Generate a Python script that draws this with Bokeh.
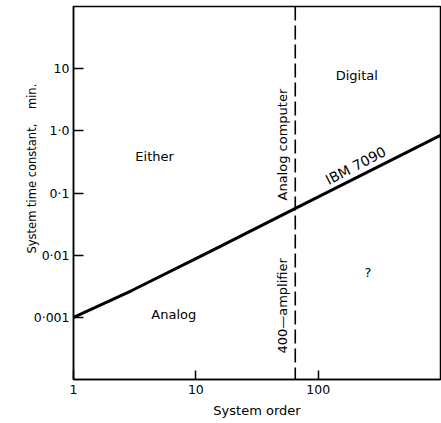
from math import pi
from bokeh.plotting import figure
from bokeh.models import FixedTicker, CustomJSTickFormatter, Label, Span, Title
from bokeh.embed import file_html
from bokeh.resources import INLINE

# ---- data ----
x_ticks = [1, 10, 100]
x_tick_labels = ["1", "10", "100"]
y_ticks = [0.001, 0.01, 0.1, 1, 10]
y_tick_labels = ["0·001", "0·01", "0·1", "1·0", "10"]

ibm_order = [1, 3, 10, 16, 67, 1000]
ibm_time = [0.001, 0.0027, 0.0088, 0.014, 0.058, 0.85]
boundary_order = 65

FONT = "DejaVu Sans"

p = figure(width=441, height=423, x_axis_type="log", y_axis_type="log",
           x_range=(1, 1000), y_range=(1e-4, 100),
           output_backend="svg", toolbar_location=None,
           min_border_left=73, min_border_right=1, min_border_top=6,
           min_border_bottom=44)

p.xgrid.visible = False
p.ygrid.visible = False
p.outline_line_color = "black"
p.outline_line_width = 1.5
p.background_fill_color = "white"
p.border_fill_color = "white"

fmt_code = """
const i = vals.findIndex(t => Math.abs(Math.log10(t) - Math.log10(tick)) < 1e-6);
return i >= 0 ? labs[i] : "";
"""

xa = p.xaxis[0]
xa.ticker = FixedTicker(ticks=x_ticks, minor_ticks=[])
xa.formatter = CustomJSTickFormatter(args=dict(vals=x_ticks, labs=x_tick_labels), code=fmt_code)
xa.major_tick_in = 9
xa.major_tick_out = 0
xa.minor_tick_in = 0
xa.minor_tick_out = 0
xa.major_tick_line_width = 1.5
xa.axis_line_width = 1.5
xa.major_label_standoff = 5
xa.major_label_text_font = FONT
xa.major_label_text_font_size = "12.5px"
xa.major_label_text_color = "black"
xa.axis_label = "System order"
xa.axis_label_text_font = FONT
xa.axis_label_text_font_size = "13px"
xa.axis_label_text_font_style = "normal"
xa.axis_label_text_color = "black"
xa.axis_label_standoff = 6

ya = p.yaxis[0]
ya.ticker = FixedTicker(ticks=y_ticks, minor_ticks=[])
ya.formatter = CustomJSTickFormatter(args=dict(vals=y_ticks, labs=y_tick_labels), code=fmt_code)
ya.major_tick_in = 10
ya.major_tick_out = 0
ya.minor_tick_in = 0
ya.minor_tick_out = 0
ya.major_tick_line_width = 1.5
ya.axis_line_width = 1.5
ya.major_label_standoff = 4
ya.major_label_text_font = FONT
ya.major_label_text_font_size = "12.5px"
ya.major_label_text_color = "black"

p.add_layout(Title(text="System time constant,\u00a0\u00a0\u00a0 min.", align="left",
                   offset=126, standoff=-17, text_font=FONT, text_font_size="11.5px",
                   text_font_style="normal", text_color="black"), "left")

# boundary (dashed vertical)
p.add_layout(Span(location=boundary_order, dimension="height", line_color="black",
                  line_width=1.6, line_dash="14 5"))

# IBM 7090 line
p.line(ibm_order, ibm_time, line_color="black", line_width=3)

def lab(x, y, text, angle=0.0, size="13px"):
    p.add_layout(Label(x=x, y=y, text=text, angle=angle, text_align="center",
                       text_baseline="middle", text_font=FONT, text_font_size=size,
                       text_color="black"))

lab(4.6, 0.39, "Either")
lab(207, 7.9, "Digital")
lab(6.6, 0.00112, "Analog")
lab(255, 0.0052, "?")
lab(51.5, 0.6, "Analog computer", angle=pi / 2)
lab(51.5, 0.00153, "400—amplifier", angle=pi / 2)
lab(203, 0.276, "IBM 7090", angle=0.48, size="14px")

open("out.html", "w").write(file_html(p, INLINE))
